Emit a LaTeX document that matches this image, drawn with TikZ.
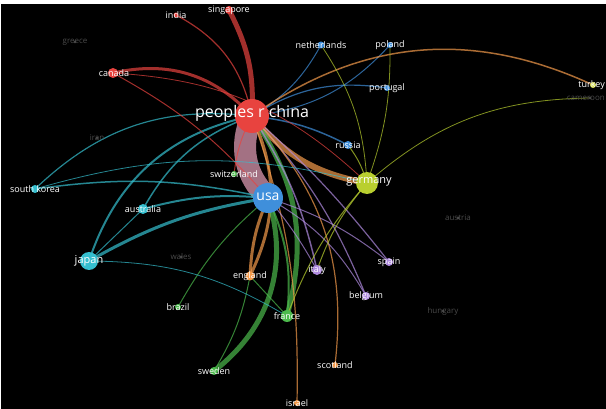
\documentclass[tikz,border=0pt]{standalone}
\usepackage{fontspec}
\setmainfont{Open Sans}
\usetikzlibrary{backgrounds}

\definecolor{cred}{HTML}{E8433F}
\definecolor{cpink}{HTML}{E9A2BC}
\definecolor{cblue}{HTML}{3F8FDB}
\definecolor{cyellow}{HTML}{B9CF2F}
\definecolor{cturkey}{HTML}{D8E05A}
\definecolor{ccyan}{HTML}{35BFCF}
\definecolor{cgreen}{HTML}{4CBA4C}
\definecolor{corange}{HTML}{F39A4B}
\definecolor{cpurple}{HTML}{B08BE0}
\definecolor{cdim}{HTML}{4A4A4A}

\begin{document}
\begin{tikzpicture}[x=1pt,y=-1pt,
  ball/.style={circle,inner sep=0pt,draw=none,fill=#1},
  lbl/.style={text=white,inner sep=0pt,font=\fontsize{9}{9}\selectfont},
  faint/.style={text=cdim,inner sep=0pt,font=\fontsize{8}{8}\selectfont},
  link/.style={draw=#1,opacity=0.7,line cap=round}]
\useasboundingbox (0,0) rectangle (606,409);

% countries
\node [ball=cred, minimum size=34pt] (china) at (252,116) {};
\node [ball=cblue, minimum size=30pt] (usa) at (268,198) {};
\node [ball=cyellow, minimum size=22pt] (germany) at (367,183) {};
\node [ball=ccyan, minimum size=18pt] (japan) at (89,261) {};
\node [ball=ccyan, minimum size=10pt] (australia) at (143,209) {};
\node [ball=ccyan, minimum size=8pt] (southkorea) at (35,189) {};
\node [ball=cred, minimum size=10pt] (canada) at (113,73) {};
\node [ball=cred, minimum size=5pt] (india) at (176,15) {};
\node [ball=cred, minimum size=8pt] (singapore) at (229,10) {};
\node [ball=cblue, minimum size=7pt] (netherlands) at (321,45) {};
\node [ball=cblue, minimum size=6pt] (poland) at (390,45) {};
\node [ball=cblue, minimum size=6pt] (portugal) at (387,88) {};
\node [ball=cblue, minimum size=8pt] (russia) at (348,145) {};
\node [ball=cgreen, minimum size=6pt] (switzerland) at (234,174) {};
\node [ball=corange, minimum size=9pt] (england) at (250,276) {};
\node [ball=cpurple, minimum size=10pt] (italy) at (317,270) {};
\node [ball=cpurple, minimum size=8pt] (spain) at (389,262) {};
\node [ball=cpurple, minimum size=8pt] (belgium) at (366,296) {};
\node [ball=cgreen, minimum size=6pt] (brazil) at (178,307) {};
\node [ball=cgreen, minimum size=12pt] (france) at (287,316) {};
\node [ball=cgreen, minimum size=8pt] (sweden) at (214,371) {};
\node [ball=corange, minimum size=6pt] (scotland) at (335,365) {};
\node [ball=corange, minimum size=6pt] (israel) at (297,403) {};
\node [ball=cturkey, minimum size=6pt] (turkey) at (593,85) {};
\node [ball=cdim, minimum size=3pt] (cameroon) at (590,98) {};
\node [ball=cdim, minimum size=3pt] (greece) at (75,42) {};
\node [ball=cdim, minimum size=3pt] (iran) at (97,138) {};
\node [ball=cdim, minimum size=3pt] (wales) at (181,257) {};
\node [ball=cdim, minimum size=3pt] (austria) at (458,218) {};
\node [ball=cdim, minimum size=3pt] (hungary) at (443,311) {};

% links
\begin{scope}[on background layer]
\fill [white] (0,0) rectangle (606,409);
\fill [black] (1,4) rectangle (606,409);
\foreach \a/\b/\c/\w/\t in {
  china/singapore/cred/5/-15, china/india/cred/1.2/-25, china/canada/cred/3/-30,
  china/netherlands/cblue/1/-15, china/poland/cblue/1/-20, china/portugal/cblue/1.2/20,
  china/turkey/corange/1.5/30, china/russia/cblue/1.5/10,
  china/germany/corange/6/-20, china/usa/cpink/22/-35, china/switzerland/cred/1/-10,
  china/england/corange/3/25, china/france/cgreen/5/25,
  usa/sweden/cgreen/5/35, usa/france/cgreen/2/15, usa/england/corange/3/-10,
  china/italy/cpurple/1.5/10, china/belgium/cpurple/1.2/10, china/spain/cpurple/1.2/5,
  china/scotland/corange/1.2/25, china/israel/corange/1.2/10,
  china/japan/ccyan/2/-30, china/australia/ccyan/1.5/-20, china/southkorea/ccyan/1.2/-25,
  usa/japan/ccyan/3/-10, usa/australia/ccyan/2/-10, usa/southkorea/ccyan/1.5/-10,
  japan/australia/ccyan/1/0, canada/usa/cred/1/10, canada/germany/cred/0.8/20,
  usa/brazil/cgreen/1/-10, usa/spain/cpurple/1/10, usa/italy/cpurple/1/5,
  usa/belgium/cpurple/1/15, germany/russia/cyellow/1/-10, germany/poland/cyellow/0.8/-10,
  germany/cameroon/cyellow/0.8/20, germany/france/cyellow/1/-10, germany/italy/cyellow/1/-10,
  germany/netherlands/cyellow/0.8/-15, sweden/england/cgreen/1/-10, france/england/cgreen/1/0,
  japan/france/ccyan/0.8/15, southkorea/germany/ccyan/0.8/15}
  \draw [link=\c, line width=\w pt] (\a.center) to[bend left=\t] (\b.center);
\end{scope}

% labels
\node [lbl, font=\fontsize{16}{16}\selectfont] (chinaL) at ([yshift=3]china) {peoples r china};
\node [lbl, font=\fontsize{14}{14}\selectfont] (usaL) at ([yshift=1]usa) {usa};
\node [lbl, font=\fontsize{11}{11}\selectfont] (germanyL) at ([xshift=2,yshift=1]germany) {germany};
\node [lbl, font=\fontsize{11}{11}\selectfont] (japanL) at (japan) {japan};
\node [lbl] (australiaL) at (australia) {australia};
\node [lbl] (southkoreaL) at (southkorea) {south korea};
\node [lbl] (canadaL) at ([xshift=1]canada) {canada};
\node [lbl] (indiaL) at (india) {india};
\node [lbl] (singaporeL) at (singapore) {singapore};
\node [lbl] (netherlandsL) at (netherlands) {netherlands};
\node [lbl] (polandL) at (poland) {poland};
\node [lbl] (portugalL) at (portugal) {portugal};
\node [lbl] (russiaL) at (russia) {russia};
\node [lbl] (switzerlandL) at (switzerland) {switzerland};
\node [lbl] (englandL) at (england) {england};
\node [lbl] (italyL) at (italy) {italy};
\node [lbl] (spainL) at (spain) {spain};
\node [lbl] (belgiumL) at (belgium) {belgium};
\node [lbl] (brazilL) at (brazil) {brazil};
\node [lbl] (franceL) at (france) {france};
\node [lbl] (swedenL) at (sweden) {sweden};
\node [lbl] (scotlandL) at (scotland) {scotland};
\node [lbl] (israelL) at (israel) {israel};
\node [lbl, anchor=east] (turkeyL) at (605,85) {turkey};
\node [faint, anchor=east] (cameroonL) at (605,98) {cameroon};
\node [faint] (greeceL) at (greece) {greece};
\node [faint] (iranL) at (iran) {iran};
\node [faint] (walesL) at (wales) {wales};
\node [faint] (austriaL) at (austria) {austria};
\node [faint] (hungaryL) at (hungary) {hungary};
\end{tikzpicture}
\end{document}
